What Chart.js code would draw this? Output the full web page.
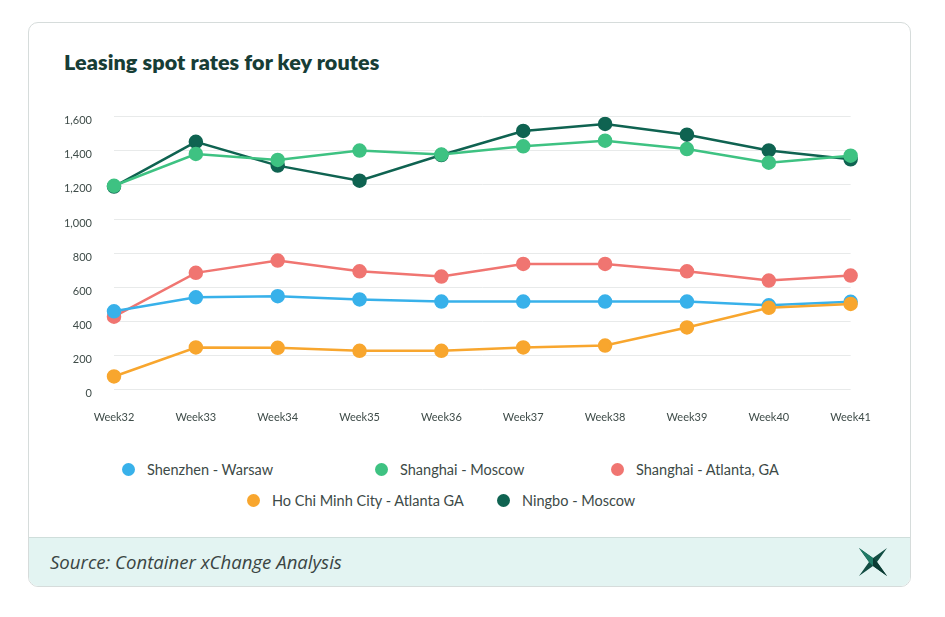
<!DOCTYPE html>
<html>
<head>
<meta charset="utf-8">
<script src="https://cdn.jsdelivr.net/npm/chart.js@4.4.1/dist/chart.umd.min.js"></script>
<style>
  html, body { margin: 0; padding: 0; background: #fff; width: 945px; height: 617px; overflow: hidden; }
  body { font-family: "Lato", "Open Sans", sans-serif; position: relative; }
  .card {
    position: absolute; left: 28px; top: 22px; width: 881px; height: 563px;
    border: 1px solid #d6dcdb; border-radius: 10px; overflow: hidden; background: #fff;
  }
  .title {
    position: absolute; left: 35px; top: 26px; margin: 0;
    font-size: 21.5px; font-weight: 800; color: #173d36; letter-spacing: 0.1px;
  }
  .chart-wrap { position: absolute; left: 22px; top: 65px; width: 841px; height: 357px; }
  .legend { position: absolute; left: 93px; top: 431px; width: 760px; }
  .legend .row { display: flex; height: 31px; align-items: center; }
  .legend .item { display: flex; align-items: center; font-size: 14.5px; color: #3d4a47; }
  .legend .dot { width: 13px; height: 13px; border-radius: 50%; margin-right: 12px; flex: none; }
  .footer {
    position: absolute; left: 0; right: 0; bottom: 0; height: 48px;
    background: #e3f4f2; border-top: 1px solid #cfdedb;
  }
  .source {
    position: absolute; left: 21px; top: 11px; font-family: "Open Sans", sans-serif;
    font-size: 18.6px; font-style: italic; color: #3a4543;
  }
  .logo { position: absolute; right: 21px; top: 8px; }
</style>
</head>
<body>
<div class="card">
  <h1 class="title">Leasing spot rates for key routes</h1>
  <div class="chart-wrap"><canvas id="chart"></canvas></div>
  <div class="legend" id="legend"></div>
  <div class="footer">
    <div class="source">Source: Container xChange Analysis</div>
    <svg class="logo" width="32" height="32" viewBox="0 0 32 32">
      <polygon points="2,2 16,12 30,2 20,16 30,30 16,20 2,30 12,16" fill="#124d43"/>
      <polygon points="2,2 16,12 16,20 12,16" fill="#1f7a66"/>
      <polygon points="30,30 16,20 16,12 20,16" fill="#0b3b33"/>
    </svg>
  </div>
</div>
<script>
// categories
const weeks = ["Week32", "Week33", "Week34", "Week35", "Week36", "Week37", "Week38", "Week39", "Week40", "Week41"];

// series
const shenzhenWarsaw = [460, 542, 548, 529, 517, 517, 517, 517, 495, 515];
const shanghaiMoscow = [1195, 1381, 1346, 1401, 1378, 1426, 1459, 1410, 1330, 1371];
const shanghaiAtlanta = [428, 685, 757, 694, 663, 737, 737, 694, 640, 669];
const hcmcAtlanta = [78, 248, 246, 228, 228, 248, 259, 365, 480, 503];
const ningboMoscow = [1190, 1452, 1313, 1225, 1375, 1516, 1557, 1494, 1402, 1350];

const seriesNames = ["Shenzhen - Warsaw", "Shanghai - Moscow", "Shanghai - Atlanta, GA", "Ho Chi Minh City - Atlanta GA", "Ningbo - Moscow"];
const seriesColors = ["#38b1ea", "#3ec282", "#f07571", "#f8a62e", "#0f6351"];
const seriesData = [shenzhenWarsaw, shanghaiMoscow, shanghaiAtlanta, hcmcAtlanta, ningboMoscow];
// lower order = drawn on top
const drawOrder = [1, 3, 2, 0, 4];

// y axis ticks
const yMin = 0, yMax = 1600, yStep = 200;

const datasets = seriesData.map((d, i) => ({
  label: seriesNames[i],
  data: d,
  borderColor: seriesColors[i],
  backgroundColor: seriesColors[i],
  pointBackgroundColor: seriesColors[i],
  pointBorderColor: seriesColors[i],
  borderWidth: 2.5,
  pointRadius: 6,
  pointHoverRadius: 6,
  tension: 0,
  order: drawOrder[i],
}));

new Chart(document.getElementById("chart"), {
  type: "line",
  data: { labels: weeks, datasets },
  options: {
    responsive: true,
    maintainAspectRatio: false,
    animation: false,
    layout: { padding: { top: 3, right: 29, left: 0, bottom: 0 } },
    plugins: { legend: { display: false }, tooltip: { enabled: false } },
    scales: {
      x: {
        grid: { display: false, drawTicks: false },
        border: { display: false },
        ticks: { color: "#3f4c49", padding: 21, font: { family: "Lato", size: 11 }, maxRotation: 0 },
      },
      y: {
        min: yMin,
        max: yMax,
        afterFit: (scale) => { scale.width = 63; },
        grid: { color: "#e8eaea", lineWidth: 1, drawTicks: false },
        border: { display: false },
        ticks: {
          stepSize: yStep,
          color: "#3f4c49",
          padding: 22,
          labelOffset: 4,
          font: { family: "Lato", size: 11 },
          callback: (v) => v.toLocaleString("en-US"),
        },
      },
    },
  },
});

// legend built from the series arrays: two rows, left offsets and column widths
const legendRows = [[0, 1, 2], [3, 4]];
const legendRowIndent = [0, 125];
const legendColWidths = [[253, 236, 200], [250, 200]];
const legendEl = document.getElementById("legend");
legendRows.forEach((row, ri) => {
  const r = document.createElement("div");
  r.className = "row";
  r.style.paddingLeft = legendRowIndent[ri] + "px";
  row.forEach((i, ci) => {
    const it = document.createElement("div");
    it.className = "item";
    it.style.width = legendColWidths[ri][ci] + "px";
    it.innerHTML = `<span class="dot" style="background:${seriesColors[i]}"></span>${seriesNames[i]}`;
    r.appendChild(it);
  });
  legendEl.appendChild(r);
});
</script>
</body>
</html>
